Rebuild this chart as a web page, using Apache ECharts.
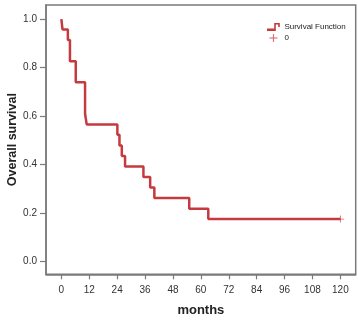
<!DOCTYPE html>
<html><head><meta charset="utf-8">
<script src="https://cdn.jsdelivr.net/npm/echarts@6/dist/echarts.min.js"></script>
<style>html,body{margin:0;padding:0;background:#fff}#c{width:358px;height:321px}</style>
</head><body><div id="c"></div>
<script>
// Kaplan-Meier step points (time in months, survival after the event)
const times    = [0, 0.5, 2.8, 3.7, 6.2, 10.2, 10.9, 24.1, 25.0, 26.0, 27.4, 35.3, 38.2, 40.0, 55.0, 63.2, 120];
const survival = [1.0, 0.957, 0.913, 0.826, 0.739, 0.609, 0.565, 0.522, 0.478, 0.435, 0.391, 0.348, 0.304, 0.261, 0.217, 0.174, 0.174];
const censorTimes = [120];
const censorSurv  = [0.174];
const xTicks = [0, 12, 24, 36, 48, 60, 72, 84, 96, 108, 120];
const yTicks = [0.0, 0.2, 0.4, 0.6, 0.8, 1.0];

const red = '#c43a3f';
const frame = '#7a7a7a';
const plus = 'path://M4.4,0H5.6V4.4H10V5.6H5.6V10H4.4V5.6H0V4.4H4.4Z';
const stepIcon = 'path://M0,7H9V0H16V5H14V2H11V10H0Z';

const chart = echarts.init(document.getElementById('c'), null, {renderer:'canvas'});
chart.setOption({
  animation:false,
  textStyle:{fontFamily:'Liberation Sans, Arial, sans-serif'},
  grid:{left:46, right:2.3, top:5, bottom:46.7, show:true, borderColor:frame, borderWidth:1.5,
        containLabel:false, outerBoundsMode:'none'},
  legend:{
    orient:'vertical', left:262, top:18, itemWidth:16, itemHeight:8, itemGap:3,
    textStyle:{fontSize:8, color:'#222', fontFamily:'Liberation Sans, Arial, sans-serif', padding:[0,0,0,-2]},
    data:[{name:'Survival Function', icon:stepIcon},{name:'0', icon:plus}]
  },
  xAxis:{
    type:'value', min:-6.6, max:126.6,
    name:'months', nameLocation:'middle', nameGap:30,
    nameTextStyle:{fontSize:13, fontWeight:'bold', color:'#222'},
    axisLine:{show:true, onZero:false, lineStyle:{color:frame, width:1.5}},
    axisTick:{show:true, length:5, customValues:xTicks, lineStyle:{color:frame, width:1.2}},
    axisLabel:{customValues:xTicks, fontSize:10, color:'#333', margin:11},
    splitLine:{show:false}
  },
  yAxis:{
    type:'value', min:-0.054, max:1.058,
    name:'Overall survival', nameLocation:'middle', nameGap:27, nameMoveOverlap:false,
    nameTextStyle:{fontSize:12.5, fontWeight:'bold', color:'#222'},
    axisLine:{show:true, onZero:false, lineStyle:{color:frame, width:1.5}},
    axisTick:{show:true, length:6, customValues:yTicks, lineStyle:{color:frame, width:1.2}},
    axisLabel:{customValues:yTicks, fontSize:10, color:'#333', margin:9, formatter:v=>v.toFixed(1)},
    splitLine:{show:false}
  },
  series:[
    {name:'Survival Function', type:'line', step:'end', showSymbol:false, symbol:'none',
     color:red, lineStyle:{color:red, width:2.5},
     data:times.map((t,i)=>[t, survival[i]])},
    {name:'0', type:'scatter', symbol:plus, symbolSize:7, color:red, itemStyle:{color:red},
     data:censorTimes.map((t,i)=>[t, censorSurv[i]])}
  ]
});
</script></body></html>
